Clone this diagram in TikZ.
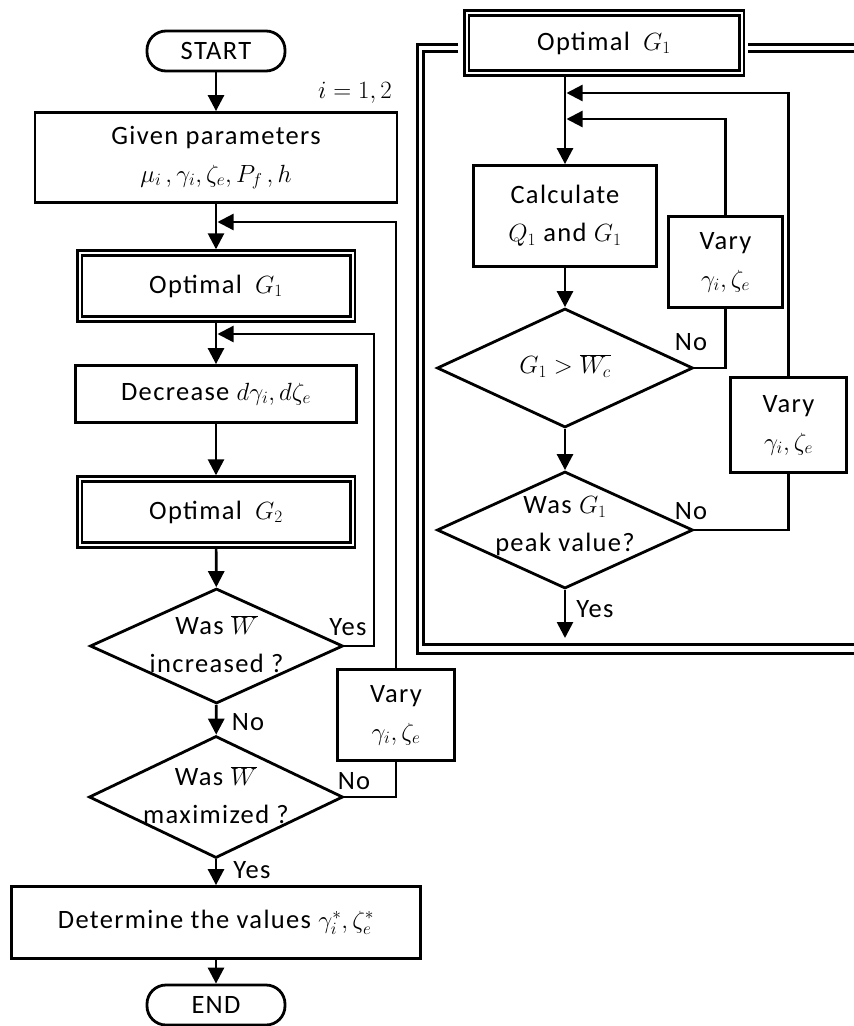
\documentclass[tikz,border=0pt]{standalone}
\usepackage{fontspec}
\setmainfont{Carlito}[LetterSpace=5]
\usetikzlibrary{arrows.meta,shapes.geometric}
\begin{document}
\begin{tikzpicture}[x=1pt,y=-1pt,
  every node/.style={font=\fontsize{26.5}{38}\selectfont},
  box/.style={draw, line width=2.8pt, rectangle, inner sep=0pt, align=center},
  dbox/.style={draw, line width=2.7pt, double, double distance=2pt, inner sep=0pt, outer sep=3.7pt, align=center},
  term/.style={draw, line width=2.8pt, rounded corners=19pt, inner sep=0pt, minimum width=138pt, minimum height=40pt},
  dia/.style={draw, diamond, line width=2.8pt, inner sep=0pt},
  txt/.style={inner sep=0pt, align=center},
  conn/.style={line width=2.7pt, -{Triangle[length=16pt,width=16pt]}},
  fb/.style={line width=2.3pt},
  fba/.style={line width=2.3pt, -{Triangle[length=16pt,width=16pt]}},
  frame/.style={line width=3pt}
]
\useasboundingbox (0,0) rectangle (854,1026);
\clip (0,0) rectangle (854,1026);

% ---------- left column ----------
\node[term] (start) at (216,51) {START};
\node[txt] (ilab) at (355,93) {$i=1,2$};
\node[box, minimum width=362pt, minimum height=90pt] (given) at (216,157.5) {Given parameters\\$\mu_i\,, \gamma_i, \zeta_e, P_f\,, h$};
\node[dbox, minimum width=273pt, minimum height=66pt] (opt1) at (216,286) {Optimal\enspace$G_1$};
\node[box, minimum width=281pt, minimum height=57pt] (dec) at (216,394) {Decrease $d\gamma_i, d\zeta_e$};
\node[dbox, minimum width=273pt, minimum height=66pt] (opt2) at (216,512) {Optimal\enspace$G_2$};
\node[dia, minimum width=253pt, minimum height=115pt] (d1) at (216.5,646) {};
\node[txt] (d1t) at (216.5,644) {Was $\overline{W}$\\increased ?};
\node[dia, minimum width=254pt, minimum height=122pt] (d2) at (216,797) {};
\node[txt] (d2t) at (216,795) {Was $\overline{W}$\\maximized ?};
\node[box, minimum width=117pt, minimum height=91pt] (vary1) at (396,715) {Vary\\$\gamma_i, \zeta_e$};
\node[box, minimum width=409pt, minimum height=72pt] (det) at (216,922.5) {Determine the values $\gamma_i^*, \zeta_e^*$};
\node[term] (end) at (216,1005) {END};

\node[txt] (yes1) at (348,627) {Yes};
\node[txt] (no1) at (248,722) {No};
\node[txt] (no2) at (354,781) {No};
\node[txt] (yes2) at (252,870) {Yes};

\coordinate (j1) at (217.5,222);
\coordinate (j2) at (217.5,334);

\draw[conn] (start) -- (given);
\draw[conn] (given) -- (opt1);
\draw[conn] (opt1) -- (dec);
\draw[conn] (dec) -- (opt2);
\draw[conn] (opt2) -- (d1);
\draw[conn] (d1) -- (d2);
\draw[conn] (d2) -- (det);
\draw[conn] (det) -- (end);
\draw[fba] (d1.east) -| (374,500) |- (j2);
\draw[fb] (d2.east) -| (vary1.south);
\draw[fba] (vary1.north) |- (j1);

% ---------- right panel ----------
\draw[frame] (458,44.5) -- (417.5,44.5) -- (417.5,653) -- (880,653);
\draw[frame] (748,44.5) -- (880,44.5);
\draw[frame] (458,51.5) -- (423.5,51.5) -- (423.5,644.5) -- (880,644.5);
\draw[frame] (748,51.5) -- (880,51.5);

\node[dbox, minimum width=275pt, minimum height=60pt] (ropt1) at (604,43) {Optimal\enspace$G_1$};
\node[box, minimum width=183pt, minimum height=101pt] (calc) at (565,216) {Calculate\\$Q_1$ and $G_1$};
\node[box, minimum width=114pt, minimum height=91pt] (rvary1) at (725.5,262) {Vary\\$\gamma_i, \zeta_e$};
\node[dia, minimum width=256pt, minimum height=119pt] (rd1) at (565,368) {};
\node[txt] (rd1t) at (565,366) {$G_1 > \overline{W_c}$};
\node[box, minimum width=116pt, minimum height=95pt] (rvary2) at (788.5,425) {Vary\\$\gamma_i, \zeta_e$};
\node[dia, minimum width=256pt, minimum height=117pt] (rd2) at (565,530) {};
\node[txt] (rd2t) at (565,526) {Was $G_1$\\peak value?};

\node[txt] (rno1) at (691,342) {No};
\node[txt] (rno2) at (691,511) {No};
\node[txt] (ryes) at (595,609) {Yes};

\coordinate (rtop) at (565,76.5);
\coordinate (rj1) at (566.5,93);
\coordinate (rj2) at (566.5,119);
\coordinate (rend) at (565,638);

\draw[conn] (rtop) -- (calc);
\draw[conn] (calc) -- (rd1);
\draw[conn] (rd1) -- (rd2);
\draw[conn] (rd2) -- (rend);
\draw[fb] (rd1.east) -| (rvary1.south);
\draw[fba] (rvary1.north) |- (rj2);
\draw[fb] (rd2.east) -| (rvary2.south);
\draw[fba] (rvary2.north) |- (rj1);
\end{tikzpicture}
\end{document}
